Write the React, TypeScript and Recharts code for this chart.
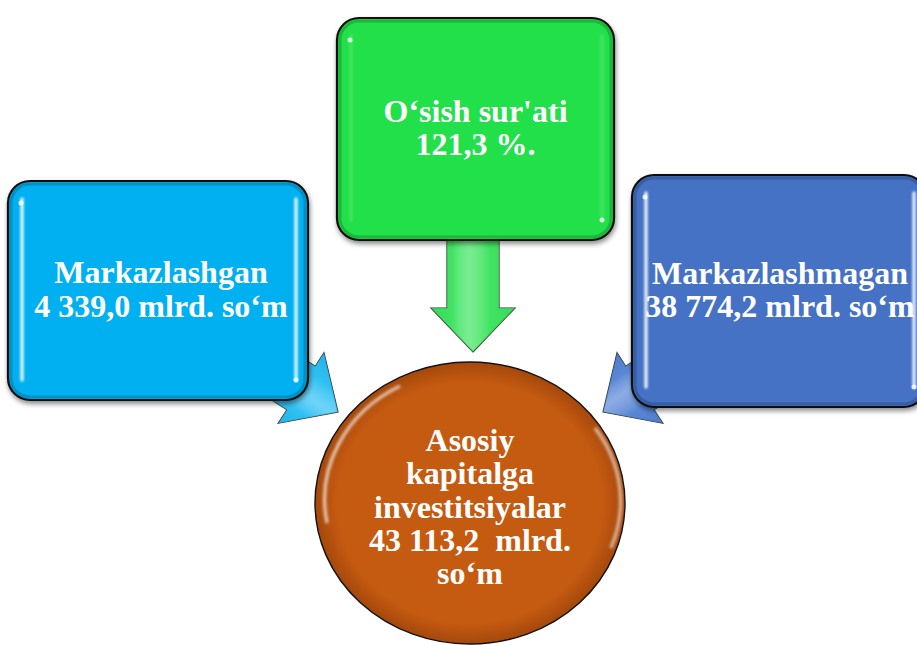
import { ScatterChart, Scatter, XAxis, YAxis } from 'recharts'

// source blocks
const sourceNames = ['Markazlashgan', "O‘sish sur'ati", 'Markazlashmagan']
const sourceValues = [4339.0, 121.3, 38774.2]
const sourceUnits = ['mlrd. so‘m', '%.', 'mlrd. so‘m']

// hub
const hubTitle = ['Asosiy', 'kapitalga', 'investitsiyalar']
const hubValue = 43113.2
const hubUnit = 'so‘m'

const W = 917
const H = 646
const FONT = "'Liberation Serif', 'Times New Roman', serif"

// layout in pixel units of the hidden axes
const boxLayout = [
  { x: 158, y: 290.5, w: 300, h: 219, fill: '#00B0F0', strip: 0.85, tx: 3 },
  { x: 475.5, y: 129, w: 277, h: 222, fill: '#22E04A', strip: 0.15, tx: 0 },
  { x: 779, y: 291, w: 294, h: 232, fill: '#4472C4', strip: 0.85, tx: 1 },
]
const arrowLayout = [
  { x: 338, y: 412, angle: 33, length: 140, fill: '#2FC0F2', dark: '#0F93C8' },
  { x: 473, y: 352, angle: 90, length: 150, fill: '#40E462', dark: '#22C044' },
  { x: 603, y: 412, angle: 147, length: 140, fill: '#5A87D6', dark: '#3560AE' },
]
const hubLayout = { x: 470, y: 503, rx: 155, ry: 141, fill: '#C55A11' }

const fmt = (v: number) => {
  const [i, d] = v.toFixed(1).split('.')
  return i.replace(/\B(?=(\d{3})+(?!\d))/g, ' ') + ',' + d
}

const boxData = sourceNames.map((name, i) => ({
  ...boxLayout[i],
  id: i,
  lines: [name, `${fmt(sourceValues[i])} ${sourceUnits[i]}`],
}))
const arrowData = arrowLayout.map((a, i) => ({ ...a, id: i }))
const hubData = [{ ...hubLayout, lines: [...hubTitle, `${fmt(hubValue)}  mlrd.`, hubUnit] }]

function Lines({ x, y, lines }: { x: number; y: number; lines: string[] }) {
  const lh = 33.3
  const start = y - ((lines.length - 1) * lh) / 2 + 9.5
  return (
    <text
      x={x}
      textAnchor="middle"
      fill="#fff"
      fontFamily={FONT}
      fontWeight="bold"
      fontSize={32}
      style={{ whiteSpace: 'pre' }}
    >
      {lines.map((l, i) => (
        <tspan key={i} x={x} y={start + i * lh}>
          {l}
        </tspan>
      ))}
    </text>
  )
}

function ArrowShape(props: any) {
  const { cx, cy, payload } = props
  const { angle, length, fill, dark, id } = payload
  const shaft = 52
  const head = 84
  const headLen = 44
  const pts = [
    [0, 0],
    [-headLen, -head / 2],
    [-headLen, -shaft / 2],
    [-length, -shaft / 2],
    [-length, shaft / 2],
    [-headLen, shaft / 2],
    [-headLen, head / 2],
  ]
  const gid = `arrowGrad${id}`
  return (
    <g transform={`translate(${cx},${cy}) rotate(${angle})`}>
      <defs>
        <linearGradient id={gid} x1="0" y1="0" x2="0" y2="1">
          <stop offset="0%" stopColor={dark} />
          <stop offset="30%" stopColor={fill} />
          <stop offset="55%" stopColor="#ffffff" stopOpacity={0.5} />
          <stop offset="75%" stopColor={fill} />
          <stop offset="100%" stopColor={dark} />
        </linearGradient>
      </defs>
      <polygon
        points={pts.map((p) => p.join(',')).join(' ')}
        fill={`url(#${gid})`}
        stroke="#333"
        strokeWidth={1.2}
      />
      <polygon points={pts.map((p) => p.join(',')).join(' ')} fill={fill} opacity={0.7} />
    </g>
  )
}

function BoxShape(props: any) {
  const { cx, cy, payload } = props
  const { w, h, fill, strip, lines, id, tx } = payload
  const x0 = cx - w / 2
  const y0 = cy - h / 2
  const fid = `boxShadow${id}`
  const gid = `stripGlow${id}`
  return (
    <g>
      <defs>
        <filter id={fid} x="-10%" y="-10%" width="120%" height="125%">
          <feDropShadow dx="1" dy="3" stdDeviation="2.5" floodColor="#000" floodOpacity="0.45" />
        </filter>
        <filter id={gid} x="-50%" y="-5%" width="200%" height="110%">
          <feGaussianBlur stdDeviation="0.8" />
        </filter>
      </defs>
      <rect x={x0} y={y0} width={w} height={h} rx={22} ry={22} fill={fill} stroke="#111" strokeWidth={2.2} filter={`url(#${fid})`} />
      <rect x={x0 + 3} y={y0 + 3} width={w - 6} height={h - 6} rx={19} ry={19} fill="none" stroke="#000" strokeOpacity={0.18} strokeWidth={3} />
      <g filter={`url(#${gid})`}>
        <line x1={x0 + 14} y1={y0 + 18} x2={x0 + 14} y2={y0 + h - 20} stroke="#fff" strokeOpacity={strip} strokeWidth={3.5} strokeLinecap="round" />
        <line x1={x0 + w - 12} y1={y0 + 18} x2={x0 + w - 12} y2={y0 + h - 20} stroke="#fff" strokeOpacity={strip} strokeWidth={3.5} strokeLinecap="round" />
      </g>
      <circle cx={x0 + 13} cy={y0 + 22} r={2.5} fill="#fff" opacity={0.8} />
      <circle cx={x0 + w - 12} cy={y0 + h - 20} r={2.5} fill="#fff" opacity={0.8} />
      <Lines x={cx + tx} y={cy} lines={lines} />
    </g>
  )
}

function HubShape(props: any) {
  const { cx, cy, payload } = props
  const { rx, ry, fill, lines } = payload
  return (
    <g>
      <defs>
        <radialGradient id="hubGrad" cx="50%" cy="50%" r="50%">
          <stop offset="86%" stopColor={fill} />
          <stop offset="100%" stopColor="#A4480C" />
        </radialGradient>
        <filter id="hubGlow" x="-20%" y="-20%" width="140%" height="140%">
          <feGaussianBlur stdDeviation="1.5" />
        </filter>
      </defs>
      <ellipse cx={cx} cy={cy} rx={rx} ry={ry} fill="url(#hubGrad)" stroke="#111" strokeWidth={1.4} />
      <path
        d={`M ${cx - rx + 12} ${cy + 20} A ${rx - 12} ${ry - 12} 0 0 1 ${cx - 70} ${cy - ry + 24}`}
        fill="none"
        stroke="#fff"
        strokeOpacity={0.75}
        strokeWidth={3}
        filter="url(#hubGlow)"
      />
      <path
        d={`M ${cx + rx - 30} ${cy - 75} A ${rx - 12} ${ry - 12} 0 0 1 ${cx + rx - 14} ${cy + 45}`}
        fill="none"
        stroke="#fff"
        strokeOpacity={0.65}
        strokeWidth={3}
        filter="url(#hubGlow)"
      />
      <Lines x={cx} y={cy + 5} lines={lines} />
    </g>
  )
}

export default function App() {
  return (
    <div style={{ position: 'absolute', left: 0, top: 0, width: W, height: H, background: '#fff', overflow: 'hidden' }}>
      <ScatterChart width={W} height={H} margin={{ top: 0, right: 0, bottom: 0, left: 0 }}>
        <XAxis type="number" dataKey="x" domain={[0, W]} hide allowDataOverflow />
        <YAxis type="number" dataKey="y" domain={[0, H]} reversed hide allowDataOverflow />
        <Scatter data={arrowData} shape={ArrowShape} isAnimationActive={false} />
        <Scatter data={boxData} shape={BoxShape} isAnimationActive={false} />
        <Scatter data={hubData} shape={HubShape} isAnimationActive={false} />
      </ScatterChart>
    </div>
  )
}
